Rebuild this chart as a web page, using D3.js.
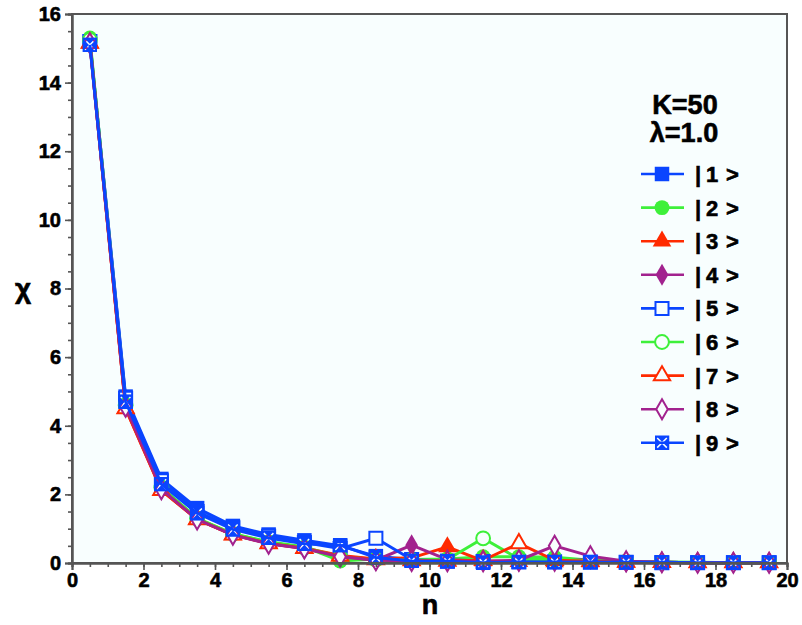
<!DOCTYPE html>
<html>
<head>
<meta charset="utf-8">
<script src="https://cdn.jsdelivr.net/npm/d3@7"></script>
<style>
  html, body { margin: 0; padding: 0; background: #fff; }
  svg text { font-family: "Liberation Sans", Arial, sans-serif; font-weight: bold; fill: #000; stroke: #000; stroke-width: 0.6px; }
</style>
</head>
<body>
<svg id="chart" width="802" height="625"></svg>
<script>
// n values (half-integer sampling points)
const nValues = [0.5, 1.5, 2.5, 3.5, 4.5, 5.5, 6.5, 7.5, 8.5, 9.5, 10.5, 11.5, 12.5, 13.5, 14.5, 15.5, 16.5, 17.5, 18.5, 19.5];

// chi(n) for each state |k>
const chi1 = [15.20, 4.85, 2.45, 1.60, 1.08, 0.83, 0.66, 0.50, 0.20, 0.10, 0.06, 0.05, 0.04, 0.03, 0.03, 0.02, 0.02, 0.01, 0.01, 0.01];
const chi2 = [15.30, 4.60, 2.20, 1.30, 0.85, 0.62, 0.47, 0.06, 0.12, 0.10, 0.12, 0.18, 0.18, 0.17, 0.08, 0.04, 0.03, 0.02, 0.01, 0.01];
const chi3 = [15.15, 4.50, 2.12, 1.27, 0.82, 0.58, 0.44, 0.22, 0.12, 0.15, 0.47, 0.06, 0.04, 0.03, 0.03, 0.02, 0.01, 0.01, 0.01, 0.01];
const chi4 = [15.15, 4.55, 2.15, 1.28, 0.83, 0.57, 0.42, 0.20, 0.08, 0.52, 0.10, 0.05, 0.04, 0.04, 0.12, 0.03, 0.02, 0.01, 0.01, 0.01];
const chi5 = [15.20, 4.80, 2.40, 1.50, 1.03, 0.78, 0.60, 0.42, 0.72, 0.10, 0.05, 0.04, 0.03, 0.03, 0.02, 0.02, 0.01, 0.01, 0.01, 0.01];
const chi6 = [15.25, 4.60, 2.20, 1.30, 0.85, 0.60, 0.45, 0.18, 0.10, 0.08, 0.10, 0.72, 0.12, 0.10, 0.07, 0.04, 0.02, 0.01, 0.01, 0.01];
const chi7 = [15.15, 4.50, 2.12, 1.27, 0.82, 0.57, 0.43, 0.20, 0.10, 0.07, 0.06, 0.08, 0.57, 0.08, 0.05, 0.03, 0.02, 0.01, 0.01, 0.01];
const chi8 = [15.15, 4.55, 2.15, 1.27, 0.82, 0.56, 0.42, 0.18, 0.08, 0.06, 0.05, 0.05, 0.08, 0.50, 0.20, 0.05, 0.02, 0.01, 0.01, 0.01];
const chi9 = [15.10, 4.70, 2.30, 1.45, 0.98, 0.73, 0.56, 0.52, 0.16, 0.06, 0.05, 0.01, 0.03, 0.03, 0.03, 0.02, 0.02, 0.01, 0.01, 0.01];

const seriesLabels = ["1", "2", "3", "4", "5", "6", "7", "8", "9"];
const xTickLabels = [0, 2, 4, 6, 8, 10, 12, 14, 16, 18, 20];
const yTickLabels = [0, 2, 4, 6, 8, 10, 12, 14, 16];

const BLUE = "#0a45ff", GREEN = "#3ef03a", RED = "#ff2a00", PURPLE = "#a2228e";
const PLOT_BG = "#f8fefe";

const series = [
  { label: seriesLabels[0], values: chi1, color: BLUE,   shape: "square",   open: false },
  { label: seriesLabels[1], values: chi2, color: GREEN,  shape: "circle",   open: false },
  { label: seriesLabels[2], values: chi3, color: RED,    shape: "triangle", open: false },
  { label: seriesLabels[3], values: chi4, color: PURPLE, shape: "diamond",  open: false },
  { label: seriesLabels[4], values: chi5, color: BLUE,   shape: "square",   open: true },
  { label: seriesLabels[5], values: chi6, color: GREEN,  shape: "circle",   open: true },
  { label: seriesLabels[6], values: chi7, color: RED,    shape: "triangle", open: true },
  { label: seriesLabels[7], values: chi8, color: PURPLE, shape: "diamond",  open: true },
  { label: seriesLabels[8], values: chi9, color: BLUE,   shape: "xsquare",  open: false }
];

const svg = d3.select("#chart");
const L = 72, R = 787, T = 14, B = 563;
const x = d3.scaleLinear().domain([0, 20]).range([L, R]);
const y = d3.scaleLinear().domain([0, 16]).range([B, T]);

// square marker with a cut-out cross
const defs = svg.append("defs");
const mask = defs.append("mask").attr("id", "xcut")
  .attr("maskUnits", "objectBoundingBox").attr("maskContentUnits", "objectBoundingBox")
  .attr("x", 0).attr("y", 0).attr("width", 1).attr("height", 1);
mask.append("rect").attr("width", 1).attr("height", 1).attr("fill", "#fff");
mask.append("path").attr("d", "M0.18,0.18L0.82,0.82M0.82,0.18L0.18,0.82")
  .attr("stroke", "#000").attr("stroke-width", 0.1);

// plot background
svg.append("rect").attr("x", L).attr("y", T).attr("width", R - L).attr("height", B - T)
  .attr("fill", PLOT_BG);

const symbolFor = {
  square: d3.symbolSquare,
  circle: d3.symbolCircle,
  triangle: d3.symbolTriangle,
  diamond: d3.symbolDiamond
};
const sizeFor = { square: 210, circle: 175, triangle: 150, diamond: 140 };
const openSize = { square: 170, circle: 150, triangle: 115, diamond: 115 };

function drawMarker(g, s, cx, cy) {
  if (s.shape === "xsquare") {
    const h = 7.5;
    g.append("rect").attr("x", cx - h).attr("y", cy - h).attr("width", 2 * h).attr("height", 2 * h)
      .attr("fill", s.color).attr("mask", "url(#xcut)");
    return;
  }
  const sym = d3.symbol().type(symbolFor[s.shape]).size(s.open ? openSize[s.shape] : sizeFor[s.shape]);
  g.append("path").attr("d", sym()).attr("transform", `translate(${cx},${cy})`)
    .attr("fill", s.open ? PLOT_BG : s.color)
    .attr("stroke", s.color).attr("stroke-width", s.open ? 2 : 0);
}

const line = d3.line().x(d => x(d[0])).y(d => y(d[1]));
const plot = svg.append("g");
series.forEach(s => {
  const pts = nValues.map((n, i) => [n, s.values[i]]);
  const g = plot.append("g");
  g.append("path").datum(pts).attr("d", line).attr("fill", "none")
    .attr("stroke", s.color).attr("stroke-width", 3).attr("stroke-linejoin", "round");
  pts.forEach(p => drawMarker(g, s, x(p[0]), y(p[1])));
});

// frame
svg.append("rect").attr("x", L).attr("y", T).attr("width", R - L).attr("height", B - T)
  .attr("fill", "none").attr("stroke", "#555").attr("stroke-width", 2);

// axes: major and minor ticks, pointing outward
const axisColor = "#555";
function styleAxis(g) {
  g.select(".domain").attr("stroke", axisColor).attr("stroke-width", 2);
  g.selectAll(".tick line").attr("stroke", axisColor).attr("stroke-width", 1.6);
  g.selectAll(".tick text").attr("font-size", 20).attr("fill", "#000")
    .attr("font-family", "Liberation Sans, Arial, sans-serif").attr("font-weight", "bold");
}
svg.append("g").attr("transform", `translate(0,${B})`)
  .call(d3.axisBottom(x).tickValues(d3.range(0, 20.001, 0.5)).tickSize(4).tickFormat(""))
  .call(styleAxis);
svg.append("g").attr("transform", `translate(0,${B})`)
  .call(d3.axisBottom(x).tickValues(xTickLabels).tickSize(7).tickPadding(3).tickFormat(d3.format("d")))
  .call(styleAxis);
svg.append("g").attr("transform", `translate(0,${B})`).call(g => g.select(".domain"));
svg.append("g").attr("transform", `translate(${L},0)`)
  .call(d3.axisLeft(y).tickValues(d3.range(0, 16.001, 0.5)).tickSize(4).tickFormat(""))
  .call(styleAxis);
svg.append("g").attr("transform", `translate(${L},0)`)
  .call(d3.axisLeft(y).tickValues(yTickLabels).tickSize(7).tickPadding(4).tickFormat(d3.format("d")))
  .call(styleAxis);

// axis titles
svg.append("text").attr("x", 430).attr("y", 614).attr("text-anchor", "middle")
  .attr("font-size", 27).text("n");
svg.append("text").attr("x", 23).attr("y", 298).attr("text-anchor", "middle")
  .attr("font-size", 28).text("χ");

// legend
svg.append("text").attr("x", 685).attr("y", 114).attr("text-anchor", "middle")
  .attr("font-size", 27).text("K=50");
svg.append("text").attr("x", 684).attr("y", 142).attr("text-anchor", "middle")
  .attr("font-size", 27).text("λ=1.0");

const legend = svg.append("g");
series.forEach((s, i) => {
  const cy = 174 + i * 33.6;
  const g = legend.append("g");
  g.append("line").attr("x1", 641).attr("x2", 684).attr("y1", cy).attr("y2", cy)
    .attr("stroke", s.color).attr("stroke-width", 2.6);
  drawMarker(g, s, 662, cy);
  const t = g.append("text").attr("y", cy + 8).attr("font-size", 22);
  t.append("tspan").attr("x", 695).text("|");
  t.append("tspan").attr("x", 706).text(s.label);
  t.append("tspan").attr("x", 726).text(">");
});
</script>
</body>
</html>
